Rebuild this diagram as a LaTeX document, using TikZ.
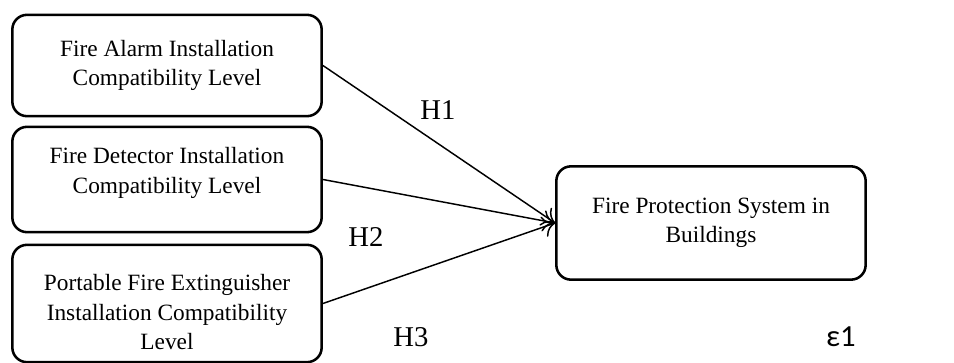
\documentclass[tikz,border=0pt]{standalone}
\usepackage{fontspec}
\setmainfont{Liberation Serif}
\newfontfamily\epsfont{Carlito}
\usetikzlibrary{positioning,arrows.meta}
\tikzset{
  varbox/.style={rectangle, draw, rounded corners=11pt, line width=1.9pt, minimum width=232pt,
                 align=center, font=\fontsize{17.5}{22}\selectfont},
  fwd/.style={-{To[length=9pt,width=16pt]}, line width=1.1pt},
  hyp/.style={font=\fontsize{21.5}{25}\selectfont},
}

\begin{document}
\begin{tikzpicture}[x=0.75pt, y=-0.75pt]
  \useasboundingbox (0,0) rectangle (954,363);

  \node[varbox, minimum height=76pt] (alarm) at (167,65.5) {Fire Alarm Installation\\Compatibility Level};
  \node[varbox, minimum height=79pt] (detector) at (167,179.5) {Fire Detector Installation\\Compatibility Level\\[-15pt]\strut};
  \node[varbox, minimum height=88pt] (extinguisher) at (167,303.5) {\strut\\[-12pt]Portable Fire Extinguisher\\Installation Compatibility\\Level};
  \node[varbox, minimum height=85pt] (protection) at (711,223) {Fire Protection System in\\Buildings};

  \draw[fwd] (alarm.east) -- (protection.west);
  \draw[fwd] (detector.east) -- (protection.west);
  \draw[fwd] (extinguisher.east) -- (protection.west);

  \node[hyp] (h1) at (438,110) {H1};
  \node[hyp] (h2) at (366,237) {H2};
  \node[hyp] (h3) at (411,337) {H3};
  \node[font=\epsfont\fontsize{23}{26}\selectfont] (eps) at (841,337) {ε1};
\end{tikzpicture}
\end{document}
